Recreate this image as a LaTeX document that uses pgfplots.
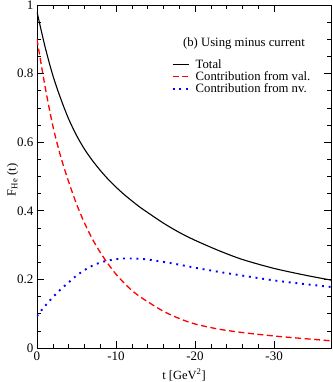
\documentclass[border=0pt]{standalone}
\usepackage{fontspec}
\setmainfont{Liberation Serif}
\usepackage{pgfplots}
\pgfplotsset{compat=1.18}

\begin{document}
\begin{tikzpicture}
\path[use as bounding box] (-37pt,-34pt) rectangle (295pt,348pt);
\begin{axis}[
  at={(0,0)}, anchor=south west,
  scale only axis, width=294pt, height=343pt,
  x dir=reverse,
  xmin=-37.2, xmax=0, ymin=0, ymax=1,
  xtick={-30,-20,-10,0}, xticklabels={-30,-20,-10,0},
  ytick={0,0.2,0.4,0.6,0.8,1}, yticklabels={0,0.2,0.4,0.6,0.8,1},
  minor x tick num=4, minor y tick num=3,
  tick align=inside,
  major tick length=7pt, minor tick length=4pt,
  tick style={black, line width=0.6pt},
  axis line style={line width=0.8pt},
  ticklabel style={font=\fontsize{13}{15}\selectfont},
  xlabel={t [GeV\textsuperscript{2}]},
  ylabel={F\textsubscript{He} (t)},
  xlabel style={at={(axis description cs:0.5,-0.079)}, anchor=center, font=\fontsize{12.5}{14}\selectfont},
  ylabel style={at={(axis description cs:-0.083,0.49)}, anchor=center, font=\fontsize{12.5}{14}\selectfont},
  legend style={draw=none, fill=none, at={(rel axis cs:0.458,0.842)}, anchor=north west,
    font=\fontsize{12.7}{14}\selectfont, row sep=1.5pt, column sep=6pt, inner sep=0pt,
    nodes={text height=9pt, text depth=0.5pt, inner ysep=0.5pt, inner xsep=0pt}},
  legend cell align=left,
  legend image code/.code={\draw[#1, sharp plot] plot coordinates {(0pt,0pt) (16pt,0pt)};},
]
% Total
\addplot[black, line width=1.1pt, smooth] coordinates {
(0,0.98)(-1,0.88)(-2,0.795)(-3,0.727)(-4,0.668)(-5,0.62)(-6,0.58)(-7,0.547)
(-8,0.518)(-9,0.492)(-10,0.469)(-11,0.448)(-12,0.429)(-13,0.411)(-14,0.395)
(-16,0.364)(-18,0.337)(-20,0.314)(-23,0.284)(-26,0.258)(-30,0.232)(-34,0.212)(-37.2,0.198)};
\addlegendentry{Total}
% valence
\addplot[color=red, line width=1.3pt, smooth, dash pattern=on 6pt off 3.5pt] coordinates {
(0,0.90)(-1,0.765)(-2,0.648)(-3,0.558)(-4,0.485)(-5,0.42)(-6,0.365)(-7,0.318)
(-8,0.279)(-9,0.245)(-10,0.215)(-11,0.19)(-12,0.168)(-13,0.15)(-14,0.135)
(-16,0.107)(-18,0.086)(-20,0.07)(-23,0.055)(-26,0.045)(-30,0.035)(-34,0.027)(-37.2,0.021)};
\addlegendentry{Contribution from val.}
% non-valence
\addplot[color=blue, line width=1.9pt, smooth, dash pattern=on 1.9pt off 4.8pt] coordinates {
(0,0.093)(-0.5,0.108)(-1,0.122)(-2,0.148)(-3,0.171)(-4,0.191)(-5,0.211)(-6,0.227)
(-7,0.240)(-8,0.249)(-9,0.255)(-10,0.259)(-11,0.261)(-12,0.261)(-13,0.26)(-14,0.258)
(-16,0.251)(-18,0.243)(-20,0.234)(-23,0.222)(-26,0.211)(-30,0.197)(-34,0.186)(-37.2,0.178)};
\addlegendentry{Contribution from nv.}
\node[font=\fontsize{12.7}{14}\selectfont] at (rel axis cs:0.704,0.889) {(b) Using minus current};
\end{axis}
\end{tikzpicture}
\end{document}
